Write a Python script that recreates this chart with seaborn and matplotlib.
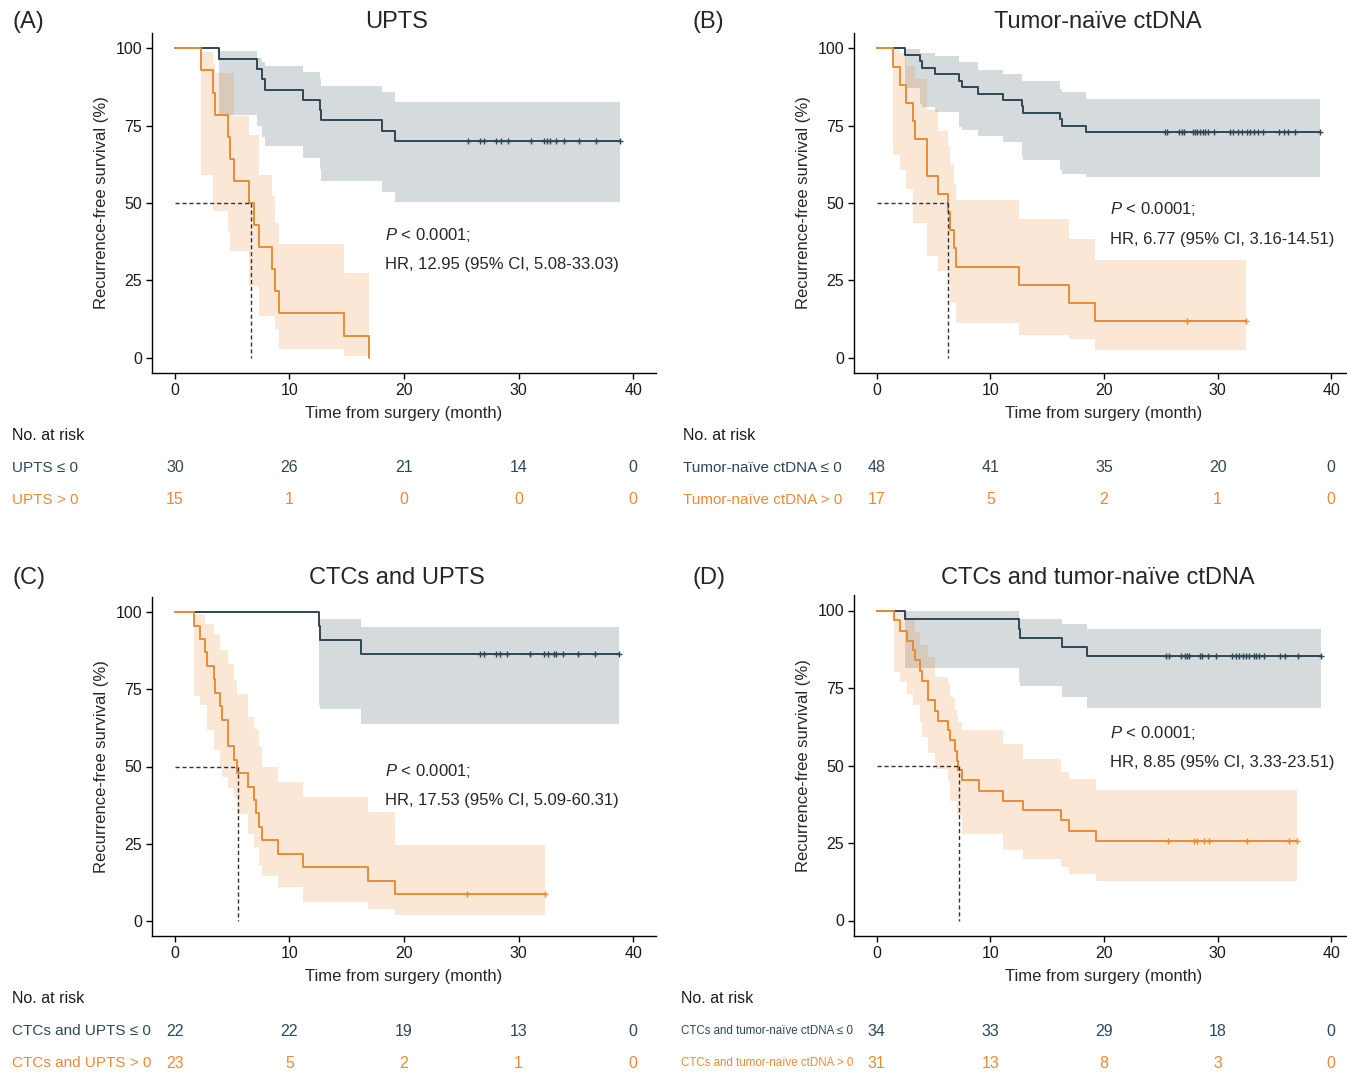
import numpy as np
import seaborn as sns
import matplotlib.pyplot as plt
from matplotlib import transforms, font_manager

DARK = "#2D4756"
ORANGE = "#E98B35"

# ---- (A) UPTS ----
a_neg_t = [0, 3.87, 7.16, 7.6, 7.89, 11.15, 12.66, 12.75, 18.05, 19.24]
a_neg_s = [100, 96.7, 93.3, 90.0, 86.7, 83.3, 80.0, 76.7, 73.3, 70.0]
a_neg_hi = [100, 99.2, 97.0, 95.5, 94.3, 92.4, 90.0, 87.8, 86.0, 82.8]
a_neg_lo = [100, 78.5, 75.0, 71.5, 68.3, 64.5, 61.0, 57.0, 53.5, 50.2]
a_neg_end = 38.9
a_neg_cens = [25.56, 26.67, 27.0, 28.03, 28.47, 29.05, 31.09, 32.26, 32.49, 32.78,
              33.28, 33.94, 35.31, 36.77, 38.9]
a_pos_t = [0, 2.27, 3.35, 3.49, 4.6, 4.8, 5.18, 6.43, 6.93, 7.31, 8.44, 8.73, 9.05, 14.73, 16.92]
a_pos_s = [100, 92.9, 85.7, 78.6, 71.4, 64.3, 57.1, 50.0, 42.9, 35.7, 28.6, 21.4, 14.3, 7.1, 0]
a_pos_hi = [100, 99.0, 95.2, 92.0, 92.0, 92.0, 78.2, 72.0, 72.0, 59.1, 52.2, 43.5, 36.6, 27.4, 0]
a_pos_lo = [100, 59.1, 47.3, 47.3, 40.9, 34.4, 34.4, 23.1, 23.1, 13.4, 13.4, 9.1, 2.7, 0.5, 0]
a_pos_end = 16.92
a_pos_cens = []

# ---- (B) Tumor-naive ctDNA ----
b_neg_t = [0, 2.53, 3.79, 3.94, 5.11, 7.25, 7.46, 8.93, 11.07, 12.75, 12.89, 16.12, 16.27, 18.41]
b_neg_s = [100, 97.9, 95.8, 93.8, 91.7, 89.6, 87.5, 85.4, 83.3, 81.3, 79.2, 77.1, 75.0, 72.9]
b_neg_hi = [100, 99.9, 98.6, 98.6, 97.5, 95.6, 95.6, 93.0, 91.6, 89.4, 89.4, 87.0, 86.0, 83.5]
b_neg_lo = [100, 87.3, 81.9, 81.0, 79.4, 74.7, 73.5, 71.6, 69.7, 65.0, 64.0, 60.6, 59.5, 58.4]
b_neg_end = 38.97
b_neg_cens = [25.37, 25.58, 26.64, 26.84, 27.05, 27.81, 28.02, 28.22, 28.46, 28.69, 28.9,
              29.19, 29.69, 31.1, 31.39, 31.83, 32.13, 32.57, 32.86, 33.22, 33.51, 33.98,
              35.36, 35.8, 36.15, 36.83, 38.97]
b_pos_t = [0, 1.44, 2.03, 2.56, 3.2, 3.35, 4.46, 5.35, 6.23, 6.43, 6.81, 6.96, 12.51, 16.92, 19.21]
b_pos_s = [100, 94.1, 88.2, 82.4, 76.5, 70.6, 58.8, 52.9, 47.1, 41.2, 35.3, 29.4, 23.5, 17.6, 11.8]
b_pos_hi = [100, 99.7, 98.6, 94.3, 94.3, 90.0, 80.0, 73.2, 68.4, 62.5, 56.0, 51.1, 44.9, 38.2, 31.4]
b_pos_lo = [100, 65.4, 60.8, 54.4, 43.6, 43.6, 32.8, 27.9, 23.1, 17.7, 17.7, 11.2, 7.4, 6.0, 2.4]
b_pos_end = 32.48
b_pos_cens = [27.34, 32.48]

# ---- (C) CTCs and UPTS ----
c_neg_t = [0, 12.55, 12.65, 16.27]
c_neg_s = [100, 95.5, 90.9, 86.4]
c_neg_hi = [100, 97.7, 97.7, 95.4]
c_neg_lo = [100, 70.0, 68.7, 63.7]
c_neg_end = 38.8
c_neg_cens = [26.67, 27.02, 28.03, 28.4, 29.0, 31.0, 32.2, 32.6, 33.07, 33.28, 33.86,
              35.2, 36.68, 38.8]
c_pos_t = [0, 1.63, 2.21, 2.65, 2.79, 3.38, 3.52, 3.96, 4.1, 4.6, 4.66, 5.18, 5.41, 6.35,
           6.93, 7.07, 7.31, 7.6, 9.03, 11.15, 16.85, 19.21]
c_pos_s = [100, 95.7, 91.3, 87.0, 82.6, 78.3, 73.9, 69.6, 65.2, 60.9, 56.5, 52.2, 47.8, 43.5,
           39.1, 34.8, 30.4, 26.1, 21.7, 17.4, 13.0, 8.7]
c_pos_hi = [100, 99, 99, 96.3, 96.3, 93.1, 93.1, 87.7, 87.7, 83.3, 83.3, 78.0, 73.6, 66.0,
            62.2, 62.2, 56.3, 50.0, 44.9, 40.0, 35.2, 24.4]
c_pos_lo = [100, 73, 69.8, 69.8, 61.7, 55.2, 55.2, 49.8, 46.5, 46.5, 43.0, 40.0, 34.6, 28.1,
            23.8, 23.8, 18.0, 14.6, 10.8, 5.9, 3.8, 1.8]
c_pos_end = 32.35
c_pos_cens = [25.5, 32.35]

# ---- (D) CTCs and tumor-naive ctDNA ----
d_neg_t = [0, 2.53, 12.54, 12.65, 16.27, 18.47]
d_neg_s = [100, 97.1, 94.1, 91.2, 88.2, 85.3]
d_neg_hi = [100, 100, 97.5, 97.3, 95.7, 94.1]
d_neg_lo = [100, 81.4, 77.0, 75.8, 72.0, 68.6]
d_neg_end = 39.09
d_neg_cens = [25.46, 25.76, 26.75, 27.14, 27.34, 27.52, 28.46, 28.6, 29.19, 29.87, 31.25,
              31.63, 31.92, 32.22, 32.51, 32.8, 33.16, 33.39, 33.6, 34.04, 35.45, 35.95,
              37.03, 39.09]
d_pos_t = [0, 1.5, 2.09, 2.67, 3.2, 3.35, 3.79, 3.94, 4.52, 5.11, 5.4, 6.28, 6.49, 6.87,
           7.02, 7.17, 7.46, 8.99, 11.07, 12.89, 16.18, 16.92, 19.27]
d_pos_s = [100, 96.8, 93.5, 90.3, 87.1, 83.9, 80.6, 77.4, 71.0, 67.7, 64.5, 61.3, 58.1, 54.8,
           51.6, 48.4, 45.2, 41.9, 38.7, 35.5, 32.3, 29.0, 25.8]
d_pos_hi = [100, 99.5, 99.5, 96.8, 96.8, 93.0, 89.0, 89.0, 85.0, 78.7, 78.7, 76.3, 72.0, 68.0,
            66.0, 64.0, 61.5, 61.5, 57.0, 52.2, 48.0, 45.7, 42.2]
d_pos_lo = [100, 80.1, 76.9, 73.1, 69.4, 69.4, 64.0, 59.1, 54.0, 48.9, 48.9, 45.0, 38.7, 38.7,
            34.0, 34.0, 28.0, 28.0, 22.6, 19.9, 17.2, 15.0, 12.6]
d_pos_end = 36.97
d_pos_cens = [25.67, 27.93, 28.16, 28.81, 29.28, 32.57, 36.24, 36.97]

medians = [6.64, 6.23, 5.47, 7.22]
titles = ["UPTS", "Tumor-naïve ctDNA", "CTCs and UPTS", "CTCs and tumor-naïve ctDNA"]
letters = ["(A)", "(B)", "(C)", "(D)"]
pvals = ["< 0.0001;"] * 4
hrs = ["HR, 12.95 (95% CI, 5.08-33.03)", "HR, 6.77 (95% CI, 3.16-14.51)",
       "HR, 17.53 (95% CI, 5.09-60.31)", "HR, 8.85 (95% CI, 3.33-23.51)"]
risk_times = [0, 10, 20, 30, 40]
risk_neg = [[30, 26, 21, 14, 0], [48, 41, 35, 20, 0], [22, 22, 19, 13, 0], [34, 33, 29, 18, 0]]
risk_pos = [[15, 1, 0, 0, 0], [17, 5, 2, 1, 0], [23, 5, 2, 1, 0], [31, 13, 8, 3, 0]]
risk_labels = [("UPTS ≤ 0", "UPTS > 0"),
               ("Tumor-naïve ctDNA ≤ 0", "Tumor-naïve ctDNA > 0"),
               ("CTCs and UPTS ≤ 0", "CTCs and UPTS > 0"),
               ("CTCs and tumor-naïve ctDNA ≤ 0", "CTCs and tumor-naïve ctDNA > 0")]

curves = [
    [(a_neg_t, a_neg_s, a_neg_lo, a_neg_hi, a_neg_end, a_neg_cens),
     (a_pos_t, a_pos_s, a_pos_lo, a_pos_hi, a_pos_end, a_pos_cens)],
    [(b_neg_t, b_neg_s, b_neg_lo, b_neg_hi, b_neg_end, b_neg_cens),
     (b_pos_t, b_pos_s, b_pos_lo, b_pos_hi, b_pos_end, b_pos_cens)],
    [(c_neg_t, c_neg_s, c_neg_lo, c_neg_hi, c_neg_end, c_neg_cens),
     (c_pos_t, c_pos_s, c_pos_lo, c_pos_hi, c_pos_end, c_pos_cens)],
    [(d_neg_t, d_neg_s, d_neg_lo, d_neg_hi, d_neg_end, d_neg_cens),
     (d_pos_t, d_pos_s, d_pos_lo, d_pos_hi, d_pos_end, d_pos_cens)],
]

W, H = 1347, 1072
# pixel layout: (left, top, width, height) of each survival panel
panel_px = [(152, 33, 504, 340), (854, 33, 500, 340),
            (152, 597, 504, 339), (854, 595, 500, 341)]
risk_top = [452, 452, 1015, 1015]
label_x = [12, 683, 12, 681]
title_xy = [(397, 22), (1098, 22), (397, 578), (1098, 578)]
letter_xy = [(12, 22), (692, 22), (12, 578), (692, 578)]
text_xy = [(18.3, 39.8, 30.1), (20.5, 47.9, 38.2), (18.3, 48.7, 39.0), (20.5, 60.6, 51.0)]

sns.set_theme(style="ticks")
plt.rcParams["font.family"] = ["Liberation Sans", "DejaVu Sans"]
plt.rcParams["mathtext.fontset"] = "custom"
plt.rcParams["mathtext.it"] = "Liberation Sans:italic"
plt.rcParams["mathtext.rm"] = "Liberation Sans"

# the long labels of panel D are set in a narrow face
names = {f.name for f in font_manager.fontManager.ttflist}
if "Liberation Sans Narrow" in names:
    narrow = dict(family=["Liberation Sans Narrow", "DejaVu Sans"], fontsize=10.5)
else:
    narrow = dict(family=["Liberation Sans", "DejaVu Sans"], fontsize=8.3)
label_font = [dict(fontsize=11), dict(fontsize=11), dict(fontsize=11), narrow]

fig = plt.figure(figsize=(W / 100, H / 100), dpi=100)


def rect(l, t, w, h):
    return [l / W, 1 - (t + h) / H, w / W, h / H]


def draw_curve(ax, t, s, lo, hi, end, cens, color):
    tt, ss, ll, hh = list(t), list(s), list(lo), list(hi)
    if end > tt[-1]:
        tt.append(end); ss.append(ss[-1]); ll.append(ll[-1]); hh.append(hh[-1])
    ax.fill_between(tt, ll, hh, step="post", color=color, alpha=0.2, lw=0)
    sns.lineplot(x=tt, y=ss, drawstyle="steps-post", color=color, lw=1.4,
                 estimator=None, sort=False, ax=ax)
    if cens:
        idx = np.searchsorted(t, cens, side="right") - 1
        ys = [s[i] for i in idx]
        sns.scatterplot(x=cens, y=ys, marker="+", color=color, s=18, linewidth=1,
                        ax=ax, zorder=3)


for i in range(4):
    l, t, w, h = panel_px[i]
    ax = fig.add_axes(rect(l, t, w, h))
    (neg, pos) = curves[i]
    draw_curve(ax, *neg, DARK)
    draw_curve(ax, *pos, ORANGE)
    m = medians[i]
    ax.plot([0, m], [50, 50], ls=(0, (3, 2)), color="#333333", lw=1)
    ax.plot([m, m], [50, 0], ls=(0, (3, 2)), color="#333333", lw=1)
    tx, py, hy = text_xy[i]
    ax.text(tx, py, r"$P$ " + pvals[i], fontsize=12, va="center", ha="left")
    ax.text(tx, hy, hrs[i], fontsize=12, va="center", ha="left")
    ax.set_xlim(-2, 42)
    ax.set_ylim(-5, 105)
    ax.set_xticks([0, 10, 20, 30, 40])
    ax.set_yticks([0, 25, 50, 75, 100])
    ax.tick_params(labelsize=11.5, length=4, width=1, color="black", labelcolor="#1a1a1a",
                   pad=3)
    ax.set_xlabel("Time from surgery (month)", fontsize=12, labelpad=6)
    ax.set_ylabel("Recurrence-free survival (%)", fontsize=12, labelpad=5)
    for sp in ["left", "bottom"]:
        ax.spines[sp].set_color("black")
        ax.spines[sp].set_linewidth(1)
    sns.despine(ax=ax)

    fig.text(title_xy[i][0] / W, 1 - title_xy[i][1] / H, titles[i], fontsize=17,
             ha="center", va="center")
    fig.text(letter_xy[i][0] / W, 1 - letter_xy[i][1] / H, letters[i], fontsize=17,
             ha="left", va="center")

    # risk table
    rax = fig.add_axes(rect(l, risk_top[i], w, 64))
    rax.set_xlim(-2, 42)
    rax.set_ylim(-0.5, 1.5)
    rax.axis("off")
    for x, n in zip(risk_times, risk_neg[i]):
        rax.text(x, 1, str(n), color=DARK, fontsize=11.5, ha="center", va="center")
    for x, n in zip(risk_times, risk_pos[i]):
        rax.text(x, 0, str(n), color=ORANGE, fontsize=11.5, ha="center", va="center")
    tr = transforms.blended_transform_factory(fig.transFigure, rax.transData)
    lx = label_x[i] / W
    rax.text(lx, 2, "No. at risk", transform=tr, fontsize=11.5, color="#1a1a1a",
             ha="left", va="center", clip_on=False)
    rax.text(lx, 1, risk_labels[i][0], transform=tr, color=DARK,
             ha="left", va="center", clip_on=False, **label_font[i])
    rax.text(lx, 0, risk_labels[i][1], transform=tr, color=ORANGE,
             ha="left", va="center", clip_on=False, **label_font[i])

fig.savefig("out.png", dpi=100)
